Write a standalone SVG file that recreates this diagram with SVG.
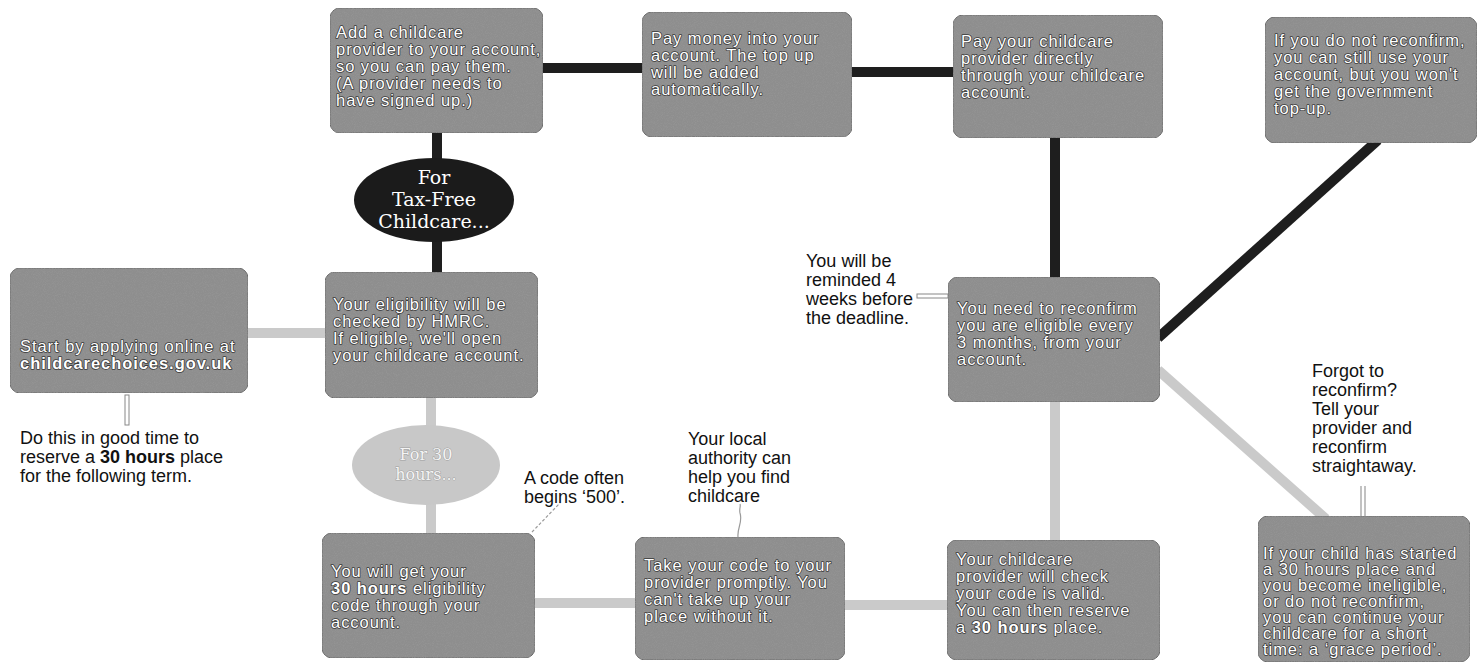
<svg xmlns="http://www.w3.org/2000/svg" width="1483" height="664" viewBox="0 0 1483 664">
<defs>
<filter id="grain" x="0" y="0" width="1" height="1">
<feTurbulence type="fractalNoise" baseFrequency="1.1" numOctaves="2" seed="3" result="n"/>
<feColorMatrix in="n" type="matrix" values="0 0 0 0 0.3  0 0 0 0 0.3  0 0 0 0 0.3  0 0 0 -2 1.2" result="g"/>
<feComposite in="g" in2="SourceGraphic" operator="in" result="gc"/>
<feMerge><feMergeNode in="SourceGraphic"/><feMergeNode in="gc"/></feMerge>
</filter>
</defs>
<style>
.box{fill:#8e8e8e;stroke:#6a6a6a;stroke-width:1;filter:url(#grain)}
.bt{font-family:"Liberation Sans",Arial,sans-serif;font-size:16.5px;letter-spacing:0.95px;fill:#fff;stroke:#3a3a3a;stroke-width:1.6px;paint-order:stroke;stroke-linejoin:round}
.nt{font-family:"Liberation Sans",Arial,sans-serif;font-size:18px;fill:#111}
.dark{stroke:#1e1e1e;stroke-width:10;fill:none}
.light{stroke:#cacaca;stroke-width:10;fill:none}
.lead{stroke:#9a9a9a;stroke-width:1.2;fill:none}
.et{font-family:"DejaVu Serif","Liberation Serif",serif;font-size:19px;fill:#fff;text-anchor:middle}
.ht{font-family:"DejaVu Serif","Liberation Serif",serif;font-size:16px;fill:#f4f4f4;stroke:#a0a0a0;stroke-width:1;paint-order:stroke;text-anchor:middle}
</style>
<rect width="1483" height="664" fill="#fff"/>
<g id="connectors">
<line class="dark" x1="540" y1="68" x2="645" y2="68"/>
<line class="dark" x1="849" y1="72" x2="956" y2="72"/>
<line class="dark" x1="1055" y1="135" x2="1055" y2="280"/>
<line class="dark" x1="1158" y1="338" x2="1378" y2="140"/>
<line class="dark" x1="437" y1="130" x2="437" y2="162"/>
<line class="dark" x1="437" y1="238" x2="437" y2="275"/>
<line class="light" x1="245" y1="333" x2="328" y2="333"/>
<line class="light" x1="431" y1="395" x2="431" y2="428"/>
<line class="light" x1="431" y1="502" x2="431" y2="536"/>
<line class="light" x1="532" y1="603" x2="638" y2="603"/>
<line class="light" x1="842" y1="605" x2="950" y2="605"/>
<line class="light" x1="1055" y1="543" x2="1055" y2="399"/>
<line class="light" x1="1158" y1="370" x2="1326" y2="519"/>
<rect x="125" y="395" width="4" height="30" fill="#fff" stroke="#888" stroke-width="1"/>
<rect x="917" y="294" width="31" height="4" fill="#fff" stroke="#888" stroke-width="1"/>
<path class="lead" d="M738 537 C737 528 743 522 740 513 C739 509 741 506 740 504"/>
<path class="lead" d="M1361 516 L1361 486 M1365 516 L1365 486"/>
<path class="lead" d="M532 532 L560 503" stroke-dasharray="3 2"/>
</g>
<g id="start">
<rect class="box" x="10" y="268" width="238" height="125" rx="10"/>
<text class="bt"><tspan x="20" y="352">Start by applying online at</tspan><tspan x="20" y="369" font-weight="bold">childcarechoices.gov.uk</tspan></text>
</g>
<g id="note-start">
<text class="nt"><tspan x="20" y="444">Do this in good time to</tspan><tspan x="20" y="463">reserve a <tspan font-weight="bold">30 hours</tspan> place</tspan><tspan x="20" y="482">for the following term.</tspan></text>
</g>
<g id="eligibility">
<rect class="box" x="325" y="272" width="213" height="126" rx="10"/>
<text class="bt"><tspan x="333" y="310">Your eligibility will be</tspan><tspan x="333" y="327">checked by HMRC.</tspan><tspan x="333" y="344">If eligible, we'll open</tspan><tspan x="333" y="361">your childcare account.</tspan></text>
</g>
<g id="tax-free">
<ellipse cx="434" cy="200" rx="80" ry="42" fill="#1b1b1b"/>
<text class="et"><tspan x="434" y="184">For</tspan><tspan x="434" y="206">Tax-Free</tspan><tspan x="434" y="228">Childcare...</tspan></text>
</g>
<g id="add-provider">
<rect class="box" x="330" y="8" width="213" height="125" rx="10"/>
<text class="bt"><tspan x="336" y="38">Add a childcare</tspan><tspan x="336" y="55">provider to your account,</tspan><tspan x="336" y="72">so you can pay them.</tspan><tspan x="336" y="89">(A provider needs to</tspan><tspan x="336" y="106">have signed up.)</tspan></text>
</g>
<g id="pay-money">
<rect class="box" x="642" y="12" width="210" height="125" rx="10"/>
<text class="bt"><tspan x="651" y="44">Pay money into your</tspan><tspan x="651" y="61">account. The top up</tspan><tspan x="651" y="78">will be added</tspan><tspan x="651" y="95">automatically.</tspan></text>
</g>
<g id="pay-provider">
<rect class="box" x="953" y="15" width="210" height="123" rx="10"/>
<text class="bt"><tspan x="961" y="47">Pay your childcare</tspan><tspan x="961" y="64">provider directly</tspan><tspan x="961" y="81">through your childcare</tspan><tspan x="961" y="98">account.</tspan></text>
</g>
<g id="no-reconfirm">
<rect class="box" x="1265" y="17" width="212" height="126" rx="10"/>
<text class="bt"><tspan x="1274" y="46">If you do not reconfirm,</tspan><tspan x="1274" y="63">you can still use your</tspan><tspan x="1274" y="80">account, but you won't</tspan><tspan x="1274" y="97">get the government</tspan><tspan x="1274" y="114">top-up.</tspan></text>
</g>
<g id="reconfirm">
<rect class="box" x="948" y="277" width="212" height="125" rx="10"/>
<text class="bt"><tspan x="957" y="314">You need to reconfirm</tspan><tspan x="957" y="331">you are eligible every</tspan><tspan x="957" y="348">3 months, from your</tspan><tspan x="957" y="365">account.</tspan></text>
</g>
<g id="note-reminded">
<text class="nt"><tspan x="806" y="267">You will be</tspan><tspan x="806" y="286">reminded 4</tspan><tspan x="806" y="305">weeks before</tspan><tspan x="806" y="324">the deadline.</tspan></text>
</g>
<g id="thirty-hours">
<ellipse cx="426" cy="465" rx="74" ry="40" fill="#c8c8c8"/>
<text class="ht"><tspan x="426" y="460">For 30</tspan><tspan x="426" y="480">hours...</tspan></text>
</g>
<g id="note-code">
<text class="nt"><tspan x="524" y="484">A code often</tspan><tspan x="524" y="503">begins ‘500’.</tspan></text>
</g>
<g id="get-code">
<rect class="box" x="322" y="533" width="213" height="125" rx="10"/>
<text class="bt"><tspan x="331" y="577">You will get your</tspan><tspan x="331" y="594"><tspan font-weight="bold">30 hours</tspan> eligibility</tspan><tspan x="331" y="611">code through your</tspan><tspan x="331" y="628">account.</tspan></text>
</g>
<g id="note-local">
<text class="nt"><tspan x="688" y="445">Your local</tspan><tspan x="688" y="464">authority can</tspan><tspan x="688" y="483">help you find</tspan><tspan x="688" y="502">childcare</tspan></text>
</g>
<g id="take-code">
<rect class="box" x="635" y="537" width="210" height="123" rx="10"/>
<text class="bt"><tspan x="644" y="571">Take your code to your</tspan><tspan x="644" y="588">provider promptly. You</tspan><tspan x="644" y="605">can't take up your</tspan><tspan x="644" y="622">place without it.</tspan></text>
</g>
<g id="provider-check">
<rect class="box" x="947" y="540" width="213" height="120" rx="10"/>
<text class="bt"><tspan x="956" y="565">Your childcare</tspan><tspan x="956" y="582">provider will check</tspan><tspan x="956" y="599">your code is valid.</tspan><tspan x="956" y="616">You can then reserve</tspan><tspan x="956" y="633">a <tspan font-weight="bold">30 hours</tspan> place.</tspan></text>
</g>
<g id="note-forgot">
<text class="nt"><tspan x="1312" y="377">Forgot to</tspan><tspan x="1312" y="396">reconfirm?</tspan><tspan x="1312" y="415">Tell your</tspan><tspan x="1312" y="434">provider and</tspan><tspan x="1312" y="453">reconfirm</tspan><tspan x="1312" y="472">straightaway.</tspan></text>
</g>
<g id="grace">
<rect class="box" x="1258" y="516" width="212" height="146" rx="10"/>
<text class="bt"><tspan x="1263" y="559">If your child has started</tspan><tspan x="1263" y="575">a 30 hours place and</tspan><tspan x="1263" y="591">you become ineligible,</tspan><tspan x="1263" y="607">or do not reconfirm,</tspan><tspan x="1263" y="623">you can continue your</tspan><tspan x="1263" y="639">childcare for a short</tspan><tspan x="1263" y="655">time: a ‘grace period’.</tspan></text>
</g>
</svg>
